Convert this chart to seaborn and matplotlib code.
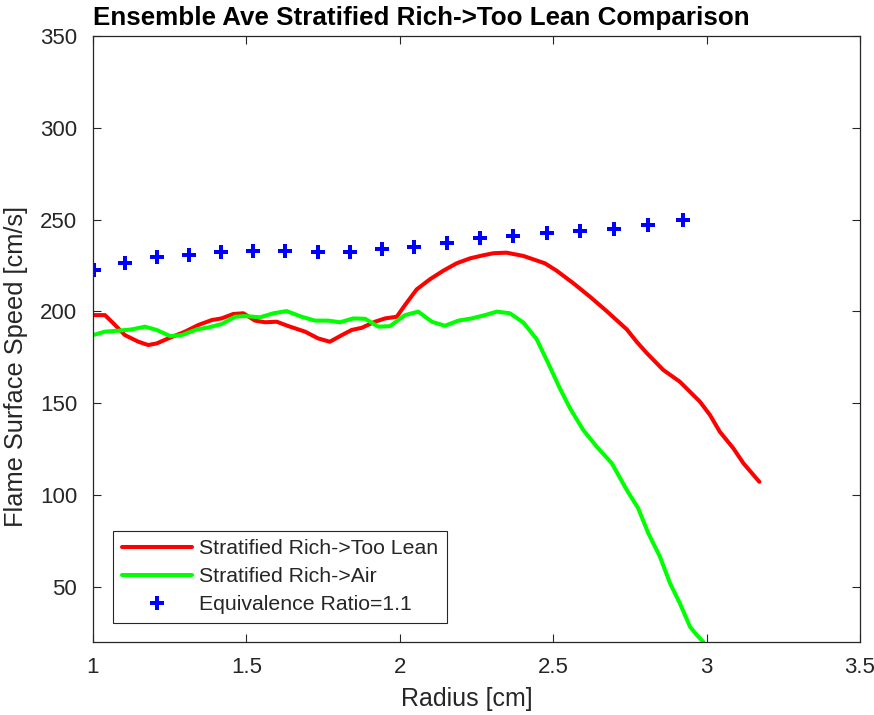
import numpy as np
import pandas as pd
import matplotlib
matplotlib.use("Agg")
import matplotlib.pyplot as plt
import seaborn as sns

# ---- data ----
red_x = [1.0, 1.039, 1.072, 1.104, 1.148, 1.180, 1.208, 1.245, 1.300, 1.343, 1.387, 1.419,
         1.457, 1.490, 1.528, 1.561, 1.599, 1.637, 1.691, 1.734, 1.772, 1.811, 1.843, 1.876,
         1.919, 1.952, 1.990, 2.017, 2.055, 2.098, 2.142, 2.185, 2.229, 2.267, 2.305, 2.348,
         2.403, 2.473, 2.511, 2.566, 2.620, 2.674, 2.740, 2.772, 2.805, 2.859, 2.913, 2.978,
         3.011, 3.043, 3.087, 3.120, 3.172]
red_y = [198.0, 198.0, 192.6, 187.1, 183.5, 181.7, 182.6, 185.3, 189.0, 192.6, 195.3, 196.2,
         198.6, 199.0, 195.0, 194.1, 194.4, 192.0, 189.0, 185.3, 183.5, 187.1, 189.9, 191.1,
         194.4, 196.2, 197.1, 203.5, 212.0, 217.5, 222.2, 226.2, 228.9, 230.4, 231.7, 232.0,
         230.2, 226.2, 222.2, 215.3, 208.0, 200.2, 190.2, 183.5, 177.3, 168.1, 161.7, 150.9,
         143.6, 134.5, 125.5, 117.3, 107.2]

green_x = [1.0, 1.039, 1.082, 1.126, 1.169, 1.208, 1.251, 1.289, 1.338, 1.376, 1.419, 1.463,
           1.495, 1.544, 1.588, 1.631, 1.680, 1.724, 1.767, 1.805, 1.848, 1.887, 1.930, 1.968,
           2.017, 2.060, 2.104, 2.147, 2.191, 2.234, 2.278, 2.316, 2.359, 2.403, 2.446, 2.484,
           2.522, 2.555, 2.598, 2.642, 2.691, 2.740, 2.777, 2.810, 2.848, 2.881, 2.913, 2.946,
           2.968, 2.989]
green_y = [187.1, 189.0, 189.5, 190.2, 191.7, 189.9, 186.6, 187.1, 190.2, 191.3, 193.1, 197.1,
           197.5, 196.8, 199.0, 200.2, 197.1, 195.0, 195.0, 194.1, 196.2, 196.0, 191.7, 192.0,
           198.0, 199.9, 194.4, 192.2, 195.0, 196.2, 198.0, 199.9, 199.0, 193.9, 184.9, 171.7,
           158.0, 147.2, 135.4, 126.3, 117.3, 102.7, 92.8, 79.2, 66.4, 51.9, 41.0, 28.3,
           23.8, 20.1]

blue_x = [1.004, 1.105, 1.209, 1.313, 1.417, 1.522, 1.627, 1.732, 1.837, 1.941, 2.046, 2.154,
          2.261, 2.370, 2.479, 2.588, 2.698, 2.810, 2.922]
blue_y = [222.6, 226.2, 229.5, 230.7, 232.2, 232.9, 232.9, 232.2, 232.2, 233.8, 235.2, 237.4,
          239.8, 241.1, 242.5, 243.8, 244.9, 247.1, 249.8]

labels = ["Stratified Rich->Too Lean", "Stratified Rich->Air", "Equivalence Ratio=1.1"]
x_ticks = [1, 1.5, 2, 2.5, 3, 3.5]
x_tick_labels = ["1", "1.5", "2", "2.5", "3", "3.5"]
y_ticks = [50, 100, 150, 200, 250, 300, 350]

# ---- style ----
sns.set_theme(style="ticks")
plt.rcParams['font.family'] = ['Liberation Sans', 'DejaVu Sans']
dark = (0.15, 0.15, 0.15)
plt.rcParams.update({
    'axes.edgecolor': dark, 'xtick.color': dark, 'ytick.color': dark,
    'axes.labelcolor': dark, 'xtick.direction': 'in', 'ytick.direction': 'in',
    'xtick.top': True, 'ytick.right': True,
})

fig = plt.figure(figsize=(8.74, 7.15), dpi=100)
ax = fig.add_axes([0.1064, 0.1021, 0.8776, 0.8476])

df_red = pd.DataFrame({'x': red_x, 'y': red_y})
df_green = pd.DataFrame({'x': green_x, 'y': green_y})
df_blue = pd.DataFrame({'x': blue_x, 'y': blue_y})

sns.lineplot(data=df_red, x='x', y='y', ax=ax, color=(1, 0, 0), linewidth=2.9,
             sort=False, estimator=None, label=labels[0])
sns.lineplot(data=df_green, x='x', y='y', ax=ax, color=(0, 1, 0), linewidth=2.9,
             sort=False, estimator=None, label=labels[1])
ax.plot(df_blue['x'], df_blue['y'], linestyle='none', marker='P', markersize=10,
        color=(0, 0, 1), markeredgewidth=0, label=labels[2])

ax.set_xlim(1, 3.5)
ax.set_ylim(20, 350)
ax.set_xticks(x_ticks)
ax.set_xticklabels(x_tick_labels)
ax.set_yticks(y_ticks)
ax.tick_params(axis='both', which='both', labelsize=16, length=6, width=0.8)
ax.tick_params(axis='x', pad=10.5)
ax.tick_params(axis='y', pad=11.5)
for s in ax.spines.values():
    s.set_linewidth(0.9)
    s.set_visible(True)

ax.set_xlabel("Radius [cm]", fontsize=18, labelpad=4)
ax.xaxis.set_label_coords(0.487, -0.075)
ax.set_ylabel("Flame Surface Speed [cm/s]", fontsize=18.3, labelpad=7)
ax.yaxis.set_label_coords(-0.085, 0.454)
ax.set_title("Ensemble Ave Stratified Rich->Too Lean Comparison", loc='left',
             fontsize=18.7, fontweight='bold', color='black', pad=8)

leg = ax.legend(loc='lower left', bbox_to_anchor=(0.026, 0.031), borderaxespad=0,
                fontsize=15.3, frameon=True, fancybox=False, edgecolor=dark,
                framealpha=1, handlelength=3.3, handletextpad=0.35, borderpad=0.42,
                labelspacing=0.42)
leg.get_frame().set_linewidth(0.8)

fig.savefig("out.png", dpi=100)
